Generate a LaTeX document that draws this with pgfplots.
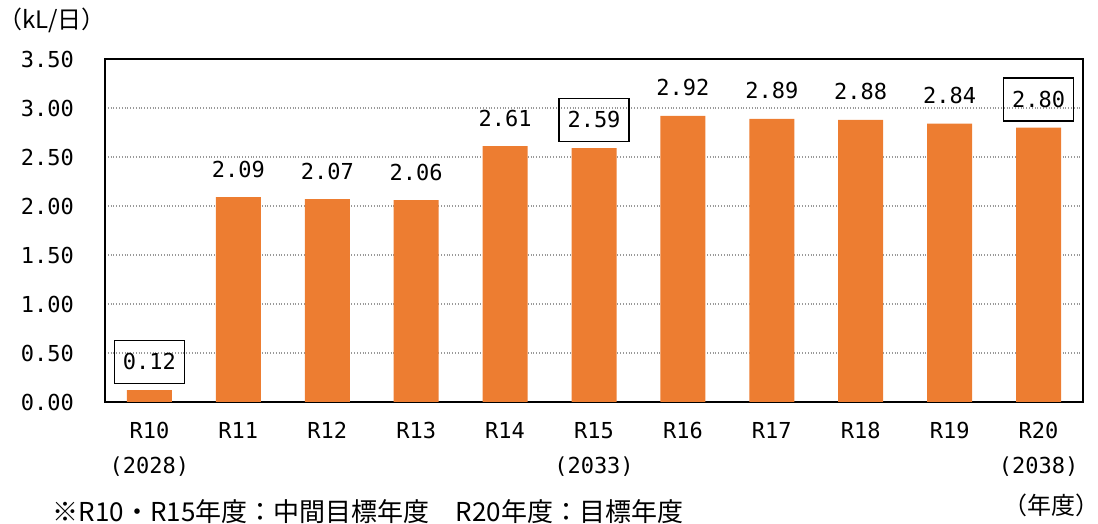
\documentclass[border=0pt]{standalone}
\usepackage{fontspec}
\setmainfont{DejaVu Sans Mono}
\newfontfamily\jp{Noto Sans CJK JP}
\usepackage{pgfplots}
\pgfplotsset{compat=1.18}
\definecolor{barorange}{HTML}{ED7D31}

\begin{document}
\begin{tikzpicture}
\useasboundingbox (-52.5pt,-61pt) rectangle (496.5pt,201pt);
\begin{axis}[
  at={(0,0)}, anchor=south west,
  scale only axis, width=489pt, height=171.5pt,
  xmin=-0.5, xmax=10.5, ymin=0, ymax=3.5,
  ybar, bar width=22.5pt,
  axis line style={line width=1pt, black},
  xtick={0,...,10}, major tick length=0pt,
  xticklabels={{R10\\(2028)},R11,R12,R13,R14,{R15\\(2033)},R16,R17,R18,R19,{R20\\(2038)}},
  x tick label style={align=center, font=\fontsize{11}{17.5}\selectfont, yshift=-6.5pt},
  ytick={0,0.5,...,3.5},
  yticklabel style={font=\fontsize{11}{12}\selectfont, xshift=-12pt,
    /pgf/number format/fixed, /pgf/number format/fixed zerofill,
    /pgf/number format/precision=2, /pgf/number format/assume math mode=true},
  ymajorgrids, major grid style={densely dotted, gray!80, line width=0.8pt},
  nodes near coords,
  every node near coord/.append style={font=\fontsize{11}{12}\selectfont, anchor=south,
    minimum width=35pt, minimum height=21.5pt, inner sep=0pt, yshift=3pt,
    /pgf/number format/fixed, /pgf/number format/fixed zerofill,
    /pgf/number format/precision=2, /pgf/number format/assume math mode=true},
  clip=false,
]
\addplot[fill=barorange, draw=none, bar shift=0pt] coordinates {
  (1,2.09) (2,2.07) (3,2.06) (4,2.61) (6,2.92) (7,2.89) (8,2.88) (9,2.84)};
\addplot[fill=barorange, draw=none, bar shift=0pt,
  every node near coord/.append style={draw=black, line width=0.8pt}] coordinates {
  (0,0.12) (5,2.59) (10,2.80)};
\end{axis}
\node[font=\jp\fontsize{12}{14}\selectfont] at (-26.5pt,191pt) {（kL/日）};
\node[font=\jp\fontsize{13}{15}\selectfont] at (131.5pt,-55pt) {※R10・R15年度：中間目標年度　R20年度：目標年度};
\node[font=\jp\fontsize{12}{14}\selectfont] at (473pt,-51.5pt) {（年度）};
\end{tikzpicture}
\end{document}
